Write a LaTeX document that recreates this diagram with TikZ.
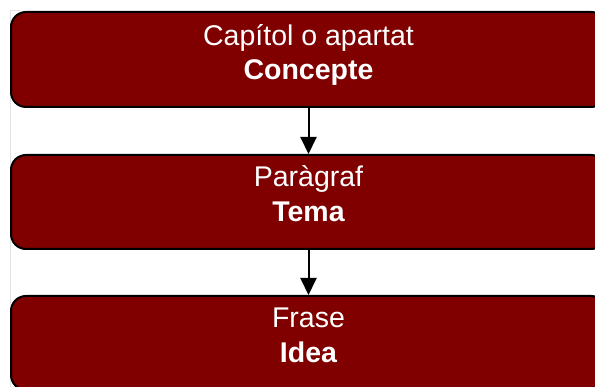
\documentclass[tikz,border=0pt]{standalone}
\usepackage{fontspec}
\setmainfont{Liberation Sans}
\usetikzlibrary{arrows.meta}
\definecolor{boxred}{HTML}{800000}
\definecolor{framegray}{HTML}{E2E2E2}
\tikzset{
  box/.style={draw=black, line width=2pt, fill=boxred, rounded corners=15pt,
    minimum width=595pt, inner sep=0pt},
  lbl/.style={anchor=base, text=white, inner sep=0pt,
    font=\fontsize{28.5}{34}\selectfont},
  lblb/.style={lbl, font=\fontsize{28.5}{34}\selectfont\bfseries},
  arr/.style={line width=2pt, -{Triangle[width=16pt,length=17pt]}},
}
\begin{document}
\begin{tikzpicture}[x=1pt,y=-1pt]
\useasboundingbox (0,0) rectangle (595,387);
\clip (0,0) rectangle (595,387);
\draw[framegray, line width=1pt] (20,11) -- (10,11) -- (10,390);
\node[box, minimum height=95pt] (b1) at (308.5,59.5) {};
\node[box, minimum height=94pt] (b2) at (308.5,202) {};
\node[box, minimum height=94pt] (b3) at (308.5,343) {};
\node[lbl]  (t1a) at (308.5,46)  {Capítol o apartat};
\node[lblb] (t1b) at (308.5,80)  {Concepte};
\node[lbl]  (t2a) at (308.5,187) {Paràgraf};
\node[lblb] (t2b) at (308.5,222) {Tema};
\node[lbl]  (t3a) at (308.5,328) {Frase};
\node[lblb] (t3b) at (308.5,363) {Idea};
\draw[arr] (b1.south) -- (b2.north);
\draw[arr] (b2.south) -- (b3.north);
\end{tikzpicture}
\end{document}
